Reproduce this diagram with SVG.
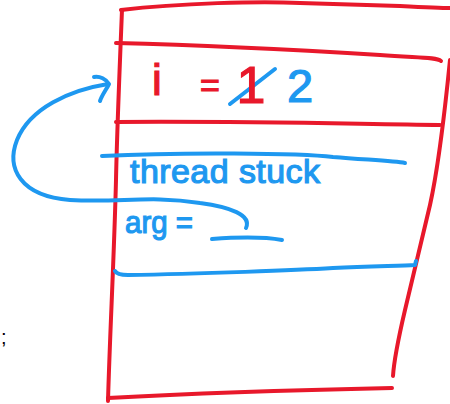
<svg xmlns="http://www.w3.org/2000/svg" width="450" height="404" viewBox="0 0 450 404">
<style>
.r{fill:none;stroke:#E8182B;stroke-width:4;stroke-linecap:round;stroke-linejoin:round}
.b{fill:none;stroke:#1E98F0;stroke-width:4;stroke-linecap:round;stroke-linejoin:round}
.tr{fill:#E8182B;stroke:#E8182B;stroke-width:1.2;font-family:"Liberation Sans",Arial,sans-serif}
.tb{fill:#1E98F0;stroke:#1E98F0;stroke-width:1.2;font-family:"Liberation Sans",Arial,sans-serif}
</style>
<rect width="450" height="404" fill="#ffffff"/>
<g id="frame">
<path class="r" d="M121,10 C180,3 260,1 300,3 C340,4 360,5 400,6 C420,7 440,8 450,8"/>
<path class="r" d="M122,10 C120,60 117,130 116,180 C114,260 110,330 108,401"/>
<path class="r" d="M108,398 C200,393 300,390 392,388"/>
<path class="r" d="M450,60 C446,100 440,160 430,205 C422,240 413,275 405,310 C398,340 394,360 393,376"/>
<path class="r" d="M116,43 C200,45 300,50 380,55 C420,58 436,57 441,61"/>
<path class="r" d="M116,122 C250,121 350,124 440,125"/>
</g>
<g id="var-i">
<text class="tr" x="152" y="95" font-size="44">i</text>
<text class="tr" x="200" y="97" font-size="34">=</text>
<path class="b" d="M230,104 L275,69"/>
<text class="tr" x="251" y="103" font-size="52" text-anchor="middle">1</text>
<text class="tb" x="287" y="102" font-size="47">2</text>
</g>
<g id="thread-stack">
<path class="b" d="M102,156 C180,152 300,153 333,157 C370,160 395,161 405,163"/>
<text class="tb" x="130" y="183" font-size="34" textLength="190" lengthAdjust="spacing">thread stuck</text>
<text class="tb" x="125" y="233" font-size="32" textLength="68" lengthAdjust="spacingAndGlyphs">arg =</text>
<path class="b" d="M212,239 C240,237 265,237 282,240"/>
<path class="b" d="M115,271 Q117,275 128,275 C200,274 300,270 333,268 C370,266 400,266 415,265 L416,261"/>
</g>
<g id="connectors">
<path class="b" d="M108,84 C70,90 30,108 17,140 C6,168 20,196 70,200 C120,203 150,195 200,203 C230,207 252,215 246,228"/>
<path class="b" d="M94,77 C100,76 106,79 109,84 C106,90 102,95 100,101"/>
</g>
<text x="1" y="344" font-size="20" fill="#000000" font-family="Liberation Sans,Arial,sans-serif">;</text>
</svg>
